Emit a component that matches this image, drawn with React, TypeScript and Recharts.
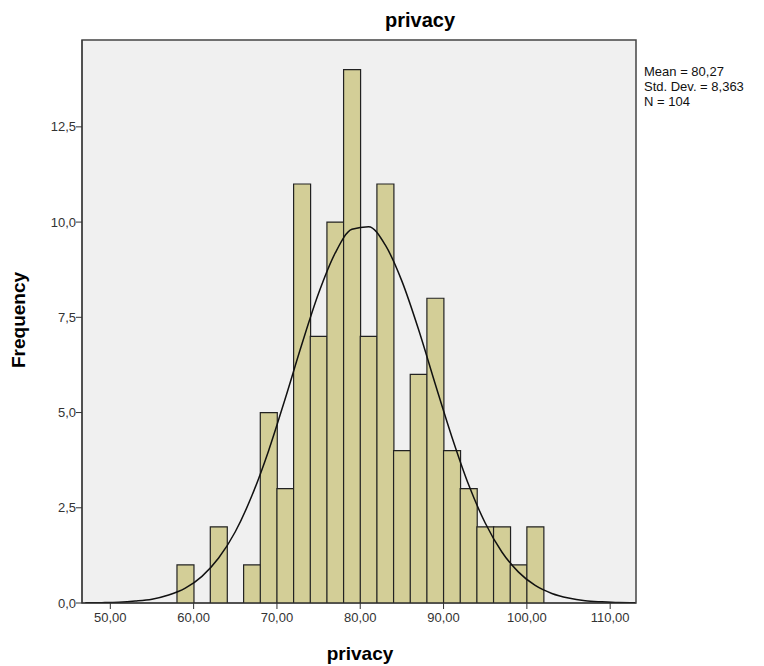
import { ComposedChart, Bar, Line, XAxis, YAxis, CartesianGrid, ReferenceArea } from "recharts";

// bin centres (bin width 2)
const binCenters = [
  47, 49, 51, 53, 55, 57, 59, 61, 63, 65, 67, 69, 71, 73, 75, 77, 79, 81, 83, 85, 87, 89, 91, 93, 95, 97,
  99, 101, 103, 105, 107, 109, 111, 113,
];
const frequency = [
  null, null, null, null, null, null, 1, null, 2, null, 1, 5, 3, 11, 7, 10, 14, 7, 11, 4, 6, 8, 4, 3, 2, 2,
  1, 2, null, null, null, null, null, null,
];
// normal curve
const normalCurve = [
  0.004, 0.009, 0.02, 0.05, 0.1, 0.21, 0.39, 0.7, 1.18, 1.87, 2.82, 4.0, 5.37, 6.8, 8.13, 9.19, 9.81, 9.88,
  9.4, 8.45, 7.18, 5.75, 4.36, 3.11, 2.1, 1.34, 0.81, 0.46, 0.25, 0.13, 0.06, 0.03, 0.01, 0.005,
];

const yTicks = [0, 2.5, 5, 7.5, 10, 12.5];
const xTicks = [50, 60, 70, 80, 90, 100, 110];
const statsLines = ["Mean = 80,27", "Std. Dev. = 8,363", "N = 104"];

const xDomain = [46.6, 113.1];
const yDomain = [0, 14.78];

const data = binCenters.map((x, i) => ({ x, freq: frequency[i], curve: normalCurve[i] }));

const font = "Arial, 'Liberation Sans', sans-serif";
const tickStyle = { fill: "#333", fontSize: 13, fontFamily: font };

export default function App() {
  return (
    <div style={{ position: "absolute", left: 0, top: 0, width: 764, height: 666, background: "#fff" }}>
      <ComposedChart
        width={764}
        height={666}
        data={data}
        margin={{ top: 40, right: 128, bottom: 33, left: 32 }}
        barCategoryGap={0}
        barGap={0}
      >
        <CartesianGrid horizontal={false} vertical={false} fill="#f0f0f0" />
        <XAxis
          dataKey="x"
          type="number"
          domain={xDomain}
          allowDataOverflow
          ticks={xTicks}
          tickFormatter={(v) => v.toFixed(2).replace(".", ",")}
          tick={tickStyle}
          tickSize={6}
          tickMargin={4}
          stroke="#333"
          height={30}
        />
        <YAxis
          type="number"
          domain={yDomain}
          allowDataOverflow
          ticks={yTicks}
          tickFormatter={(v) => v.toFixed(1).replace(".", ",")}
          tick={tickStyle}
          tickSize={6}
          tickMargin={0}
          stroke="#333"
          width={50}
        />
        <Bar dataKey="freq" fill="#d3ce97" stroke="#222" strokeWidth={1.2} isAnimationActive={false} />
        <Line
          dataKey="curve"
          type="monotone"
          stroke="#111"
          strokeWidth={1.5}
          dot={false}
          activeDot={false}
          isAnimationActive={false}
        />
        {/* plot frame */}
        <ReferenceArea
          x1={xDomain[0]}
          x2={xDomain[1]}
          y1={yDomain[0]}
          y2={yDomain[1]}
          fill="none"
          fillOpacity={0}
          stroke="#444"
          strokeWidth={1.5}
          ifOverflow="extendDomain"
        />
      </ComposedChart>
      <div style={{ position: "absolute", left: 320, top: 9, width: 200, textAlign: "center", fontFamily: font, fontWeight: "bold", fontSize: 20 }}>
        privacy
      </div>
      <div style={{ position: "absolute", left: 260, top: 643, width: 200, textAlign: "center", fontFamily: font, fontWeight: "bold", fontSize: 19 }}>
        privacy
      </div>
      <div
        style={{
          position: "absolute",
          left: 19,
          top: 320,
          transform: "translate(-50%, -50%) rotate(-90deg)",
          fontFamily: font,
          fontWeight: "bold",
          fontSize: 19,
          whiteSpace: "nowrap",
        }}
      >
        Frequency
      </div>
      <div style={{ position: "absolute", left: 644, top: 64, fontFamily: font, fontSize: 13, lineHeight: "15px", color: "#111" }}>
        {statsLines.map((s) => (
          <div key={s}>{s}</div>
        ))}
      </div>
    </div>
  );
}
